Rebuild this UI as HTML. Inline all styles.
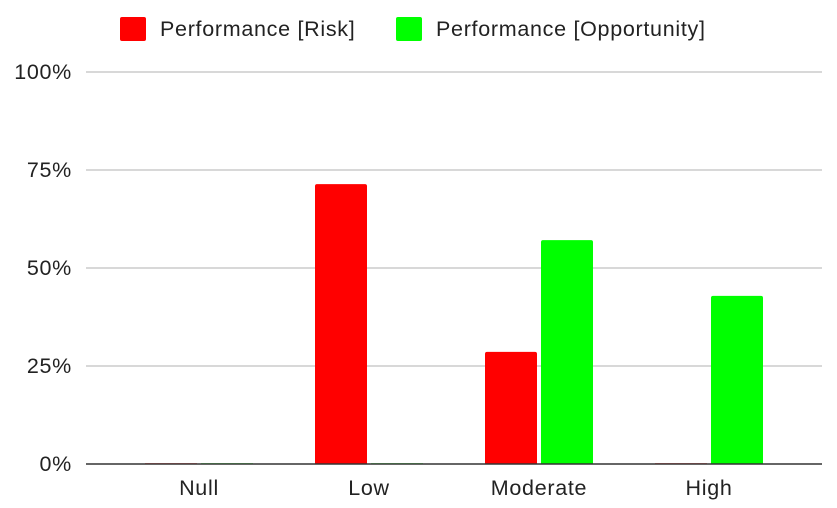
<!DOCTYPE html>
<html><head><meta charset="utf-8"><style>
html,body{margin:0;padding:0;background:#fff;}
svg{display:block;font-family:"Liberation Sans",Arial,sans-serif;}
text{letter-spacing:0.7px;}
</style></head><body>
<svg id="chart" width="837" height="508">
<g>
<rect x="120" y="17" width="26" height="24" rx="2" fill="#ff0000"/>
<text x="160" y="36" font-size="21.5" fill="#222">Performance [Risk]</text>
<rect x="396" y="17" width="26" height="24" rx="2" fill="#00ff00"/>
<text x="436" y="36" font-size="21.5" fill="#222">Performance [Opportunity]</text>
</g>
<g id="grid"></g><g id="bars"></g><g id="xlabels"></g>
</svg>
<script>
const categories=["Null","Low","Moderate","High"];
const riskValues=[0,71.4,28.6,0];
const oppValues=[0,0,57.1,42.9];
const tickValues=[0,25,50,75,100];
const tickLabels=["0%","25%","50%","75%","100%"];
const NS="http://www.w3.org/2000/svg";
const y0=464,pxPer=3.92;
function y(v){return y0-v*pxPer;}
function xc(i){return 199+i*170;}
function mk(t,a,p){const e=document.createElementNS(NS,t);for(const k in a)e.setAttribute(k,a[k]);p.appendChild(e);return e;}
const grid=document.getElementById('grid');
tickValues.forEach((v,i)=>{
 if(v>0){const l=mk('line',{x1:86,x2:822,y1:y(v),y2:y(v),stroke:'#ccc','stroke-width':1.5},grid);
 
 }
 const t=mk('text',{x:72,y:y(v)+7,'font-size':21.5,fill:'#222','text-anchor':'end'},grid);
 t.textContent=tickLabels[i];
 
 
});
const bars=document.getElementById('bars');
categories.forEach((c,i)=>{
 [[riskValues,'#ff0000',-54],[oppValues,'#00ff00',2]].forEach(([arr,col,off])=>{
  const v=arr[i],h=Math.max(v*pxPer,0);
  if(h>0){const r=mk('path',{d:`M${xc(i)+off},${y0} V${y(v)+2} q0,-2 2,-2 H${xc(i)+off+50} q2,0 2,2 V${y0} Z`,fill:col},bars);
  
  }
  else{const r=mk('rect',{x:xc(i)+off,y:y0-1,width:52,height:1.5,fill:col,opacity:0.5},bars);
  
  }
 });
 const t=mk('text',{x:xc(i),y:495,'font-size':21.5,fill:'#222','text-anchor':'middle'},document.getElementById('xlabels'));
 t.textContent=c;
 
 
});
const ax=mk('line',{x1:86,x2:822,y1:y0,y2:y0,stroke:'#333','stroke-width':1.5},document.getElementById('chart'));


</script>
</body></html>
